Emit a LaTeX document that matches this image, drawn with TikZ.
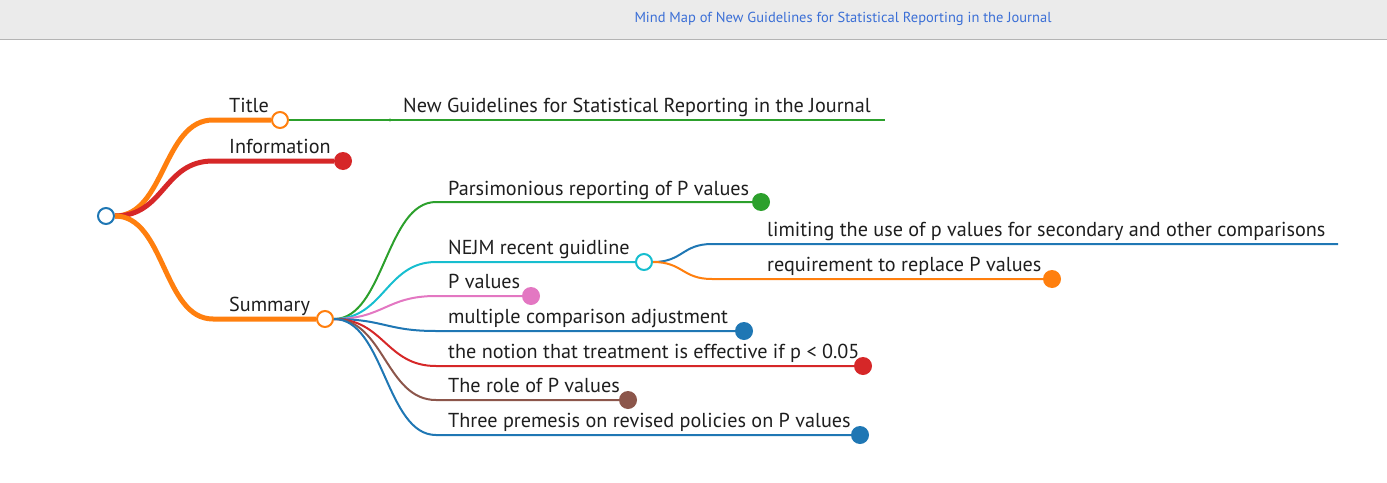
\documentclass[tikz,border=0pt]{standalone}
\usepackage{fontspec}
\setmainfont{PT Sans}
\usepackage{tikz}
\usetikzlibrary{positioning}
\definecolor{mmblue}{HTML}{1F77B4}
\definecolor{mmorange}{HTML}{FF7F0E}
\definecolor{mmgreen}{HTML}{2CA02C}
\definecolor{mmred}{HTML}{D62728}
\definecolor{mmcyan}{HTML}{17BECF}
\definecolor{mmpink}{HTML}{E377C2}
\definecolor{mmbrown}{HTML}{8C564B}
\definecolor{testo}{HTML}{1E1E1E}
\definecolor{fondo}{HTML}{EBEBEB}
\definecolor{bordo}{HTML}{B4B4B4}
\definecolor{intestazione}{HTML}{3B6FD6}
\tikzset{
  ramo/.style={line width=5pt},
  rametto/.style={line width=2pt},
  aperto/.style={circle, draw, fill=white, line width=2pt, inner sep=0pt, minimum size=16pt},
  pieno/.style={circle, fill, inner sep=0pt, minimum size=18pt},
  etichetta/.style={anchor=base west, inner sep=0pt, text=testo, font=\fontsize{20.2}{22}\selectfont},
  titolo/.style={inner sep=0pt, text=intestazione, font=\fontsize{14.5}{16}\selectfont}
}

\begin{document}
\begin{tikzpicture}[x=1pt, y=-1pt]
    \useasboundingbox (0,0) rectangle (1387,482);
    % Parametri
    \pgfmathsetmacro{\xuno}{213}
    \pgfmathsetmacro{\xdue}{436}
    \pgfmathsetmacro{\xtre}{712}
    % Intestazione
    \fill[fondo] (0,0) rectangle (1387,39);
    \draw[bordo, line width=1pt] (0,39.5) -- (1387,39.5);
    \node[titolo] (header) at (843,19) {Mind Map of New Guidelines for Statistical Reporting in the Journal};
    % Nodi
    \node[aperto, draw=mmblue] (radice) at (106,216) {};
    \node[aperto, draw=mmorange] (title) at (280,120) {};
    \node[pieno, mmred] (info) at (343,161) {};
    \node[aperto, draw=mmorange] (summary) at (325,319) {};
    \node[pieno, mmgreen] (parsim) at (761,202) {};
    \node[aperto, draw=mmcyan] (nejm) at (644,262) {};
    \node[pieno, mmpink] (pval) at (531,296) {};
    \node[pieno, mmblue] (multi) at (744,331) {};
    \node[pieno, mmred] (notion) at (863,366) {};
    \node[pieno, mmbrown] (role) at (628,400) {};
    \node[pieno, mmblue] (three) at (860,435) {};
    \node[pieno, mmorange] (replace) at (1052,279) {};
    \coordinate (guide) at (390,120);
    \coordinate (fine-guide) at (885,120);
    \coordinate (fine-limit) at (1338,244);
    % Rami primo livello
    \draw[ramo, mmorange] (radice.east) .. controls +(50,0) and +(-50,0) .. (\xuno,120) -- (title.west);
    \draw[ramo, mmred] (radice.east) .. controls +(50,0) and +(-50,0) .. (\xuno,161) -- (info.west);
    \draw[ramo, mmorange] (radice.east) .. controls +(50,0) and +(-50,0) .. (\xuno,319) -- (summary.west);
    % Title
    \draw[rametto, mmgreen] (title.east) -- (guide) -- (fine-guide);
    \fill[mmgreen] (guide) circle (1.6pt);
    % Summary
    \draw[rametto, mmgreen] (summary.east) .. controls +(50,0) and +(-50,0) .. (\xdue,202) -- (parsim.west);
    \draw[rametto, mmcyan] (summary.east) .. controls +(50,0) and +(-50,0) .. (\xdue,262) -- (nejm.west);
    \draw[rametto, mmpink] (summary.east) .. controls +(50,0) and +(-50,0) .. (\xdue,296) -- (pval.west);
    \draw[rametto, mmblue] (summary.east) .. controls +(50,0) and +(-50,0) .. (\xdue,331) -- (multi.west);
    \draw[rametto, mmred] (summary.east) .. controls +(50,0) and +(-50,0) .. (\xdue,366) -- (notion.west);
    \draw[rametto, mmbrown] (summary.east) .. controls +(50,0) and +(-50,0) .. (\xdue,400) -- (role.west);
    \draw[rametto, mmblue] (summary.east) .. controls +(50,0) and +(-50,0) .. (\xdue,435) -- (three.west);
    % NEJM
    \draw[rametto, mmblue] (nejm.east) .. controls +(30,0) and +(-30,0) .. (\xtre,244) -- (fine-limit);
    \draw[rametto, mmorange] (nejm.east) .. controls +(30,0) and +(-30,0) .. (\xtre,279) -- (replace.west);
    % Etichette
    \node[etichetta] (l-title) at (229,112) {Title};
    \node[etichetta] (l-info) at (229,153) {Information};
    \node[etichetta] (l-summary) at (229,311) {Summary};
    \node[etichetta] (l-guide) at (403,112) {New Guidelines for Statistical Reporting in the Journal};
    \node[etichetta] (l-parsim) at (448,195) {Parsimonious reporting of P values};
    \node[etichetta] (l-nejm) at (448,254) {NEJM recent guidline};
    \node[etichetta] (l-pval) at (448,288) {P values};
    \node[etichetta] (l-multi) at (448,323) {multiple comparison adjustment};
    \node[etichetta] (l-notion) at (448,358) {the notion that treatment is effective if p < 0.05};
    \node[etichetta] (l-role) at (448,392) {The role of P values};
    \node[etichetta] (l-three) at (448,427) {Three premesis on revised policies on P values};
    \node[etichetta] (l-limit) at (767,236) {limiting the use of p values for secondary and other comparisons};
    \node[etichetta] (l-replace) at (767,271) {requirement to replace P values};
\end{tikzpicture}
\end{document}
